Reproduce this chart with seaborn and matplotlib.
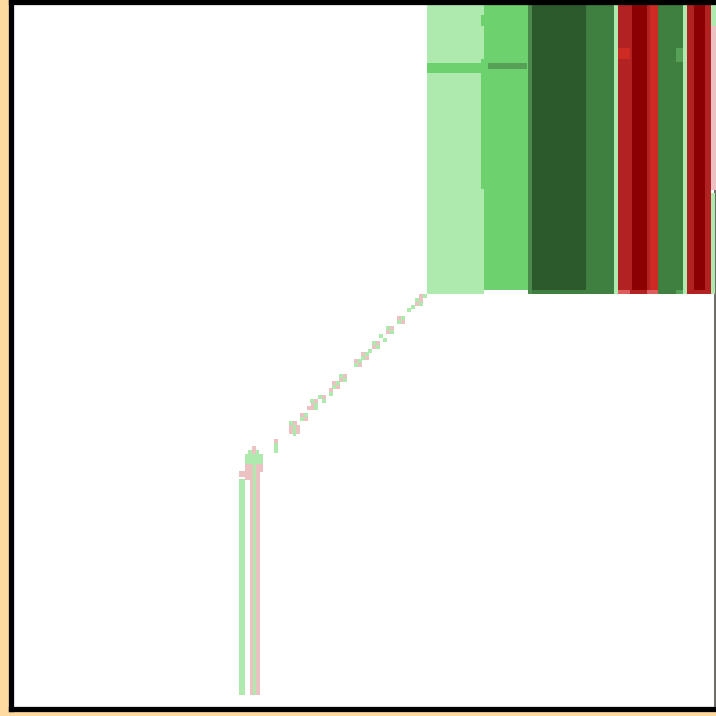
import numpy as np
import pandas as pd
import seaborn as sns
import matplotlib.pyplot as plt

# big overlapping block (top right): x from/to, y from/to (y grows downward), tone
block_x0 = [426.7, 427, 481, 481, 484.3, 488, 527.7, 527.7, 531.5, 614.3, 618, 618, 632, 632, 647, 650,
            658, 676, 683, 686.7, 694.3, 694.3, 705.3, 711.3, 711.3, 710.8, 618, 647, 676]
block_x1 = [484.3, 481, 484.3, 484.3, 527.7, 527, 615, 531.5, 585.5, 618, 632, 630, 647, 647, 650, 658,
            683, 683, 686.7, 694.3, 705.3, 705.3, 711.3, 716, 716, 714.8, 630, 658, 683]
block_y0 = [3, 63, 15, 59, 3, 63, 3, 3, 3, 3, 3, 48, 290, 3, 3, 3,
            3, 48, 3, 3, 290, 3, 3, 3, 26, 193, 290, 290, 290]
block_y1 = [294, 73, 26, 189, 290, 69, 294, 294, 290, 294, 294, 59, 294, 290, 294, 294,
            294, 62, 294, 294, 294, 290, 294, 26, 190, 294, 294, 294, 294]
block_tone = ["g1", "g2", "g2", "g2", "g2", "g6", "g4", "g3", "g5", "g1", "r3", "r2", "r3", "r4", "r3", "r2",
              "g4", "g6", "g1", "r3", "r3", "r4", "r3", "g1", "r1", "g1", "r5", "r5", "g6"]

# small cells along the diagonal
trail_x = [419, 423, 415, 419, 415, 419, 411, 407, 397, 401, 397, 401, 386, 390, 386, 390,
           379, 383, 372, 376, 372, 376, 368, 361, 365, 361, 365, 354, 358, 354, 358,
           339, 343, 339, 343, 332, 336, 332, 336, 329, 329, 318, 322, 322, 310, 314,
           311, 307, 314, 300, 304, 300, 304, 289, 293, 289, 293, 296, 274, 274]
trail_y = [294, 294, 298, 298, 302, 302, 305, 308, 316, 316, 320, 320, 326, 326, 330, 330,
           334, 338, 341, 341, 345, 345, 349, 352, 352, 356, 356, 359, 359, 363, 363,
           374, 374, 378, 378, 381, 381, 385, 385, 388, 392, 395, 395, 399, 399, 399,
           403, 406, 403, 413, 413, 417, 417, 421, 421, 425, 425, 425, 439, 443]
trail_w = [4, 4, 4, 4, 4, 4, 4, 4, 4, 4, 4, 4, 4, 4, 4, 4,
           4, 4, 4, 4, 4, 4, 4, 4, 4, 4, 4, 4, 4, 4, 4,
           4, 4, 4, 4, 4, 4, 4, 4, 4, 4, 4, 4, 4, 4, 4,
           3, 7, 4, 4, 4, 4, 4, 4, 4, 4, 3, 4, 4, 4]
trail_h = [4, 4, 4, 4, 4, 4, 4, 4, 4, 4, 4, 4, 4, 4, 4, 4,
           4, 4, 4, 4, 4, 4, 4, 4, 4, 4, 4, 4, 4, 4, 4,
           4, 4, 4, 4, 4, 4, 4, 4, 4, 4, 4, 4, 4, 4, 4,
           4, 4, 7, 4, 4, 4, 4, 4, 4, 9, 11, 9, 4, 10]
trail_tone = ["r1", "g1", "g1", "r1", "r1", "g1", "g1", "g1", "r1", "g1", "g1", "r1", "g1", "r1", "r1", "g1",
              "g1", "g1", "g1", "r1", "r1", "g1", "g1", "r1", "g1", "g1", "r1", "r1", "g1", "g1", "r1",
              "g1", "r1", "r1", "g1", "r1", "g1", "g1", "r1", "r1", "g1", "g1", "r1", "g1", "g1", "r1",
              "r1", "r1", "g1", "r1", "g1", "g1", "r1", "g1", "r1", "r1", "g1", "r1", "r1", "g1"]

# the tall strip at bottom left
stem_x = [252, 248, 252, 256, 245, 256, 245, 256, 239, 245, 239, 250, 253, 256]
stem_y = [446, 450, 450, 450, 454, 454, 464, 464, 471, 472, 479, 472, 454, 472]
stem_w = [4, 4, 4, 3, 8, 7, 8, 7, 6, 5, 6, 3, 3, 3.5]
stem_h = [4, 4, 4, 4, 10, 10, 8, 8, 6, 8, 216, 223, 241, 223]
stem_tone = ["r1", "g1", "r1", "g1", "g1", "g1", "r1", "r1", "r1", "r1", "g1", "r1", "g1", "r1"]

tones = {
    "g1": "#AEEAAE", "g2": "#6DD16D", "g3": "#4A8A4A", "g4": "#3F7F3F",
    "g5": "#2D5A2D", "g6": "#57A057",
    "r1": "#EBC1C1", "r2": "#CC2A22", "r3": "#B22222", "r4": "#8B0000", "r5": "#DD5C5C",
}

df_block = pd.DataFrame({"x": block_x0, "y": block_y0,
                         "w": np.subtract(block_x1, block_x0),
                         "h": np.subtract(block_y1, block_y0), "tone": block_tone})
df_trail = pd.DataFrame({"x": trail_x, "y": trail_y, "w": trail_w, "h": trail_h, "tone": trail_tone})
df_stem = pd.DataFrame({"x": stem_x, "y": stem_y, "w": stem_w, "h": stem_h, "tone": stem_tone})
df = pd.concat([df_block, df_trail, df_stem], ignore_index=True)

sns.set_theme(style="white")

fig = plt.figure(figsize=(7.16, 7.16), dpi=100, facecolor="#FFDAA0")
W = 716.0
ax = fig.add_axes([10.8 / W, (W - 708.7) / W, (715.2 - 10.8) / W, (708.7 - 1.8) / W])
ax.set_facecolor("white")

ax.bar(df["x"], df["h"], width=df["w"], bottom=df["y"], align="edge",
       color=[tones[t] for t in df["tone"]], linewidth=0, zorder=3, clip_on=False)

ax.set_xlim(10.8, 715.2)
ax.set_ylim(708.7, 1.8)
ax.set_xticks([])
ax.set_yticks([])

for side in ["left", "bottom", "top"]:
    ax.spines[side].set_color("black")
    ax.spines[side].set_linewidth(3.8)
    ax.spines[side].set_zorder(4)
ax.spines["right"].set_color("#555555")
ax.spines["right"].set_linewidth(1.2)
ax.spines["right"].set_zorder(2)

fig.savefig("out.png", dpi=100, facecolor=fig.get_facecolor())
